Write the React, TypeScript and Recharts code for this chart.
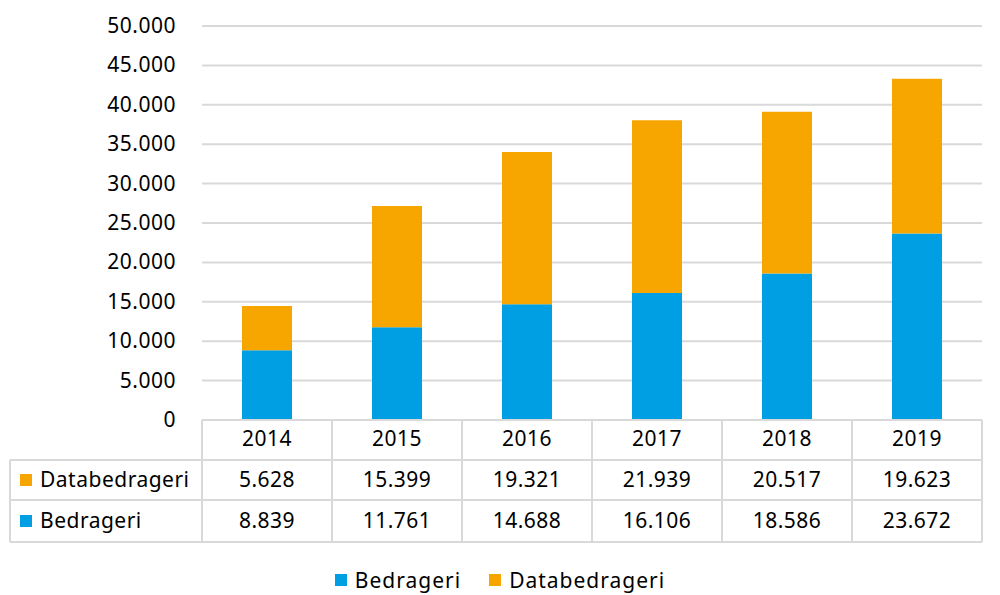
import { BarChart, Bar, XAxis, YAxis, CartesianGrid } from 'recharts'

const years = ['2014', '2015', '2016', '2017', '2018', '2019']
const bedrageri = [8839, 11761, 14688, 16106, 18586, 23672]
const databedrageri = [5628, 15399, 19321, 21939, 20517, 19623]
const yTicks = [0, 5000, 10000, 15000, 20000, 25000, 30000, 35000, 40000, 45000, 50000]

const BLUE = '#009fe3'
const ORANGE = '#f7a600'
const GRID = '#d9d9d9'
const FONT = '"Noto Sans", sans-serif'

const data = years.map((year, i) => ({
  year,
  bedrageri: bedrageri[i],
  databedrageri: databedrageri[i]
}))

const fmt = (v: number) => String(v).replace(/\B(?=(\d{3})+(?!\d))/g, '.')

// table geometry (plot bottom and row lines)
const TOP = 420
const ROW1 = 460
const ROW2 = 500
const BOTTOM = 542
const HALF = 65
const LABEL_LEFT = 10

const YTick = (props: any) => {
  const { y, payload } = props
  return (
    <text x={176} y={y} dy={7} textAnchor='end' fontSize={21} fill='#000' style={{ fontFamily: FONT, letterSpacing: 0.5 }}>
      {fmt(payload.value)}
    </text>
  )
}

const TableTick = (props: any) => {
  const { x, index, payload } = props
  const left = x - HALF
  const right = x + HALF
  const txt = { fontFamily: FONT, letterSpacing: 0.5 }
  return (
    <g>
      <line x1={left} x2={right} y1={TOP} y2={TOP} stroke={GRID} strokeWidth={2} />
      <line x1={left} x2={right} y1={ROW1} y2={ROW1} stroke={GRID} strokeWidth={2} />
      <line x1={left} x2={right} y1={ROW2} y2={ROW2} stroke={GRID} strokeWidth={2} />
      <line x1={left} x2={right} y1={BOTTOM} y2={BOTTOM} stroke={GRID} strokeWidth={2} />
      <line x1={left} x2={left} y1={TOP} y2={BOTTOM} stroke={GRID} strokeWidth={2} />
      <line x1={right} x2={right} y1={TOP} y2={BOTTOM} stroke={GRID} strokeWidth={2} />
      <text x={x} y={446} textAnchor='middle' fontSize={21} fill='#000' style={txt}>{payload.value}</text>
      <text x={x} y={487} textAnchor='middle' fontSize={21} fill='#000' style={txt}>{fmt(databedrageri[index])}</text>
      <text x={x} y={528} textAnchor='middle' fontSize={21} fill='#000' style={txt}>{fmt(bedrageri[index])}</text>
      {index === 0 && (
        <g>
          <line x1={LABEL_LEFT} x2={left} y1={ROW1} y2={ROW1} stroke={GRID} strokeWidth={2} />
          <line x1={LABEL_LEFT} x2={left} y1={ROW2} y2={ROW2} stroke={GRID} strokeWidth={2} />
          <line x1={LABEL_LEFT} x2={left} y1={BOTTOM} y2={BOTTOM} stroke={GRID} strokeWidth={2} />
          <line x1={LABEL_LEFT} x2={LABEL_LEFT} y1={ROW1} y2={BOTTOM} stroke={GRID} strokeWidth={2} />
          <rect x={20} y={474} width={12} height={12} fill={ORANGE} />
          <text x={40} y={487} fontSize={21} fill='#000' style={txt}>Databedrageri</text>
          <rect x={20} y={515} width={12} height={12} fill={BLUE} />
          <text x={40} y={528} fontSize={21} fill='#000' style={txt}>Bedrageri</text>
        </g>
      )}
    </g>
  )
}

const LegendContent = () => (
  <div style={{ position: 'absolute', left: 0, top: 566, width: 1000, height: 28, display: 'flex', justifyContent: 'center', alignItems: 'center', fontFamily: FONT, fontSize: 21, letterSpacing: 1, color: '#000' }}>
    <span style={{ width: 12, height: 12, background: BLUE, display: 'inline-block', marginRight: 8 }} />
    <span style={{ marginRight: 28 }}>Bedrageri</span>
    <span style={{ width: 12, height: 12, background: ORANGE, display: 'inline-block', marginRight: 8 }} />
    <span>Databedrageri</span>
  </div>
)

export default function App () {
  return (
    <div style={{ position: 'absolute', left: 0, top: 0, width: 1000, height: 595, background: '#fff' }}>
      <BarChart
        width={1000}
        height={595}
        data={data}
        margin={{ top: 26, right: 18, bottom: 53, left: 0 }}
      >
        <CartesianGrid vertical={false} stroke={GRID} strokeWidth={2} />
        <YAxis
          width={202}
          domain={[0, 50000]}
          ticks={yTicks}
          axisLine={false}
          tickLine={false}
          tick={<YTick />}
          interval={0}
        />
        <XAxis
          dataKey='year'
          height={122}
          axisLine={false}
          tickLine={false}
          tick={<TableTick />}
          interval={0}
        />
        <Bar dataKey='bedrageri' name='Bedrageri' stackId='a' fill={BLUE} barSize={50} isAnimationActive={false} />
        <Bar dataKey='databedrageri' name='Databedrageri' stackId='a' fill={ORANGE} barSize={50} isAnimationActive={false} />
      </BarChart>
      <LegendContent />
    </div>
  )
}
